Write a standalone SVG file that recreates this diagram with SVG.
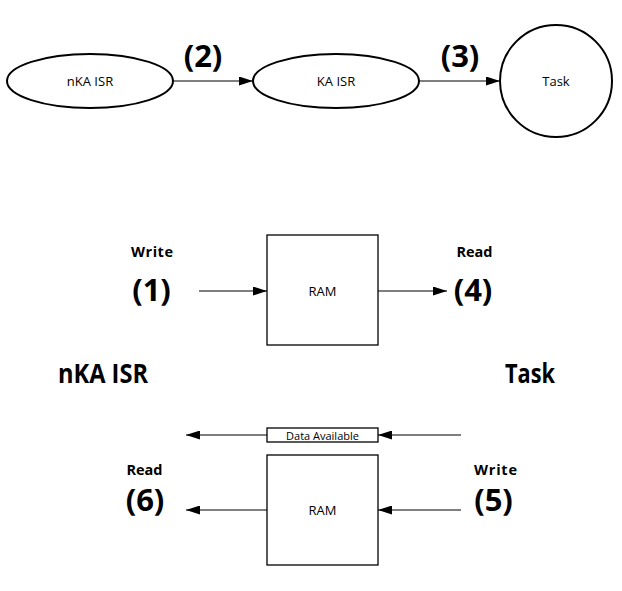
<svg xmlns="http://www.w3.org/2000/svg" width="622" height="591" viewBox="0 0 622 591">
<style>
.shape{fill:#fff;stroke:#000}
.ell{stroke-width:2}
.box{stroke-width:1.3}
.conn line{stroke:#000;stroke-width:1.1;marker-end:url(#ah)}
.sm{font-family:"Open Sans","Noto Sans",sans-serif;font-size:13px;fill:#000;text-anchor:middle}
.xs{font-family:"Open Sans","Noto Sans",sans-serif;font-size:11px;fill:#000;text-anchor:middle}
.lb{font-family:"Open Sans","Noto Sans",sans-serif;font-weight:bold;font-size:14.5px;fill:#000;text-anchor:middle}
.num{font-family:"Open Sans","Noto Sans",sans-serif;font-weight:bold;font-size:31px;fill:#000;text-anchor:middle}
.big{font-family:"Open Sans","Noto Sans",sans-serif;font-weight:bold;font-size:26px;fill:#000;text-anchor:middle}
</style>
<defs>
<marker id="ah" viewBox="0 0 14 9" refX="14" refY="4.5" markerWidth="14" markerHeight="9" markerUnits="userSpaceOnUse" orient="auto">
<path d="M0,0 L14,4.5 L0,9 Z" fill="#000"/>
</marker>
</defs>
<rect width="622" height="591" fill="#fff"/>
<g id="connectors" class="conn">
<line x1="172" y1="81" x2="253" y2="81"/>
<line x1="419" y1="81" x2="500" y2="81"/>
<line x1="199" y1="291" x2="267" y2="291"/>
<line x1="378" y1="291" x2="447" y2="291"/>
<line x1="267" y1="435" x2="186" y2="435"/>
<line x1="461" y1="435" x2="378" y2="435"/>
<line x1="267" y1="510" x2="186" y2="510"/>
<line x1="461" y1="510" x2="378" y2="510"/>
</g>
<g id="node-nka-isr">
<ellipse class="shape ell" cx="90" cy="81" rx="83" ry="27"/>
<text class="sm" x="90" y="86">nKA ISR</text>
</g>
<g id="node-ka-isr">
<ellipse class="shape ell" cx="336" cy="81" rx="83" ry="27"/>
<text class="sm" x="336" y="86">KA ISR</text>
</g>
<g id="node-task">
<circle class="shape ell" cx="556" cy="81" r="56"/>
<text class="sm" x="556" y="86">Task</text>
</g>
<g id="node-ram1">
<rect class="shape box" x="267" y="235" width="111" height="110"/>
<text class="sm" x="322.5" y="296">RAM</text>
</g>
<g id="node-data-available">
<rect class="shape box" x="267" y="428" width="111" height="14"/>
<text class="xs" x="322.5" y="439.5">Data Available</text>
</g>
<g id="node-ram2">
<rect class="shape box" x="267" y="455" width="111" height="110"/>
<text class="sm" x="322.5" y="515">RAM</text>
</g>
<g id="labels">
<text class="num" x="203" y="67">(2)</text>
<text class="num" x="460" y="67">(3)</text>
<text class="lb" x="152" y="257" textLength="42" lengthAdjust="spacing">Write</text>
<text class="num" x="151.5" y="301">(1)</text>
<text class="lb" x="474.5" y="257">Read</text>
<text class="num" x="473" y="301">(4)</text>
<text class="big" x="103" y="383" textLength="90" lengthAdjust="spacingAndGlyphs">nKA ISR</text>
<text class="big" x="530" y="383" textLength="50" lengthAdjust="spacingAndGlyphs">Task</text>
<text class="lb" x="144.5" y="475">Read</text>
<text class="num" x="145" y="511">(6)</text>
<text class="lb" x="495.5" y="475" textLength="43" lengthAdjust="spacing">Write</text>
<text class="num" x="493.5" y="511">(5)</text>
</g>
</svg>
